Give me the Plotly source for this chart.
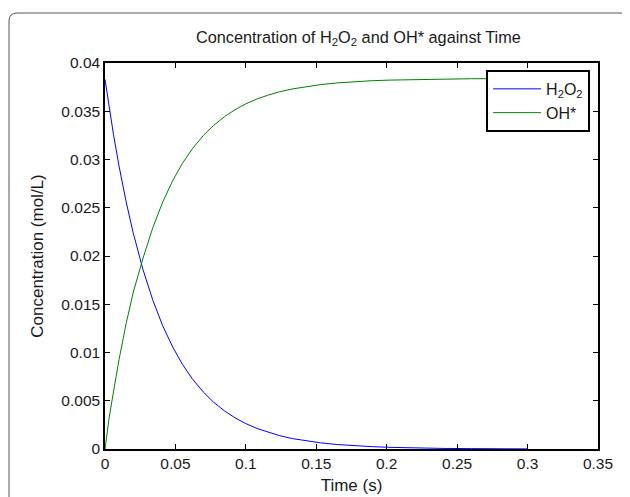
import plotly.graph_objects as go

# --- data ---
time_s = [0, 0.003, 0.006, 0.010, 0.015, 0.020, 0.027, 0.034, 0.041, 0.048,
          0.055, 0.062, 0.070, 0.077, 0.085, 0.093, 0.100, 0.108, 0.116, 0.124,
          0.133, 0.143, 0.153, 0.165, 0.177, 0.190, 0.203, 0.220, 0.240, 0.260,
          0.280, 0.300]

h2o2 = [0.0383, 0.03534, 0.03261, 0.02930, 0.02562, 0.02241, 0.01858, 0.01540,
        0.01276, 0.01058, 0.00877, 0.00727, 0.00587, 0.00486, 0.00393, 0.00317,
        0.00263, 0.00212, 0.00171, 0.00138, 0.00108, 0.00083, 0.00064, 0.00046,
        0.00033, 0.00024, 0.00017, 0.00010, 0.00006, 0.00004, 0.00002, 0.00001]

oh = [0, 0.0033, 0.0059, 0.0093, 0.0130, 0.0162, 0.01978, 0.02296, 0.02560,
      0.02779, 0.02961, 0.03111, 0.03252, 0.03352, 0.03446, 0.03522, 0.03577,
      0.03628, 0.03668, 0.03702, 0.03731, 0.03757, 0.03776, 0.03794, 0.03807,
      0.03817, 0.03823, 0.03829, 0.03834, 0.03837, 0.03838, 0.03839]

FONT = "Liberation Sans, Arial, sans-serif"
TXT = "#1a1a1a"

fig = go.Figure()
fig.add_trace(go.Scatter(x=time_s, y=h2o2, mode="lines", name="H<sub>2</sub>O<sub>2</sub>",
                         line=dict(color="#0000ff", width=1)))
fig.add_trace(go.Scatter(x=time_s, y=oh, mode="lines", name="OH*",
                         line=dict(color="#008000", width=1)))

axis_common = dict(showgrid=False, zeroline=False, showline=True, linecolor="black",
                   linewidth=1.5, mirror="allticks", ticks="inside", ticklen=5,
                   tickcolor="black", tickfont=dict(size=15.5, color=TXT),
                   automargin=False)

fig.update_xaxes(range=[0, 0.35], dtick=0.05, tick0=0,
                 title=dict(text="Time (s)", font=dict(size=17, color=TXT), standoff=8),
                 **axis_common)
fig.update_yaxes(range=[0, 0.04], dtick=0.005, tick0=0,
                 title=dict(text="Concentration (mol/L)", font=dict(size=17, color=TXT), standoff=13),
                 **axis_common)

# rounded grey frame around the whole figure (paper coordinates)
x0, x1, y0, y1 = -0.1947, 1.0609, -0.16, 1.1295
rx, ry = 0.0162, 0.0207
frame = (f"M {x0+rx},{y1} L {x1-rx},{y1} Q {x1},{y1} {x1},{y1-ry} "
         f"L {x1},{y0} M {x0},{y0} L {x0},{y1-ry} Q {x0},{y1} {x0+rx},{y1}")
fig.add_shape(type="path", path=frame, xref="paper", yref="paper",
              line=dict(color="#555", width=1))

# page body adds an 8px margin, so the figure is 8px smaller and shifted
fig.update_layout(
    template="none",
    width=622, height=489,
    paper_bgcolor="white", plot_bgcolor="white",
    font=dict(family=FONT, color=TXT),
    margin=dict(l=97, r=32, t=55, b=48),
    title=dict(text="Concentration of H<sub>2</sub>O<sub>2</sub> and OH* against Time",
               x=0.514, xref="paper", xanchor="center", y=0.94, yanchor="middle",
               font=dict(size=16.3, color=TXT)),
    showlegend=True,
    legend=dict(x=0.984, y=0.982, xanchor="right", yanchor="top",
                bgcolor="white", bordercolor="black", borderwidth=2,
                itemwidth=48,
                font=dict(size=16, color=TXT), tracegroupgap=2),
)

fig.write_html("out.html")
